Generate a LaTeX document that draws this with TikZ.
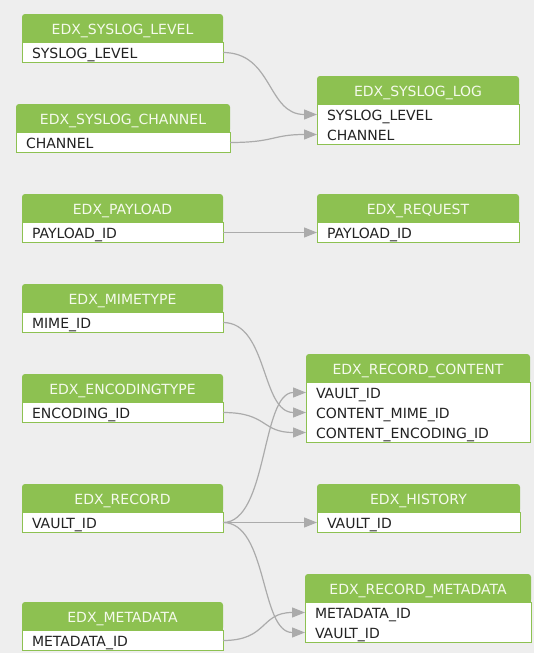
\documentclass[tikz,border=0pt]{standalone}
\usepackage{fontspec}
\setmainfont{DejaVu Sans}
\usetikzlibrary{arrows.meta}
\definecolor{hg}{HTML}{8DC151}
\definecolor{bgc}{HTML}{EEEEEE}
\definecolor{lnc}{HTML}{ABABAB}
\definecolor{htc}{HTML}{F5FAEC}
\definecolor{txc}{HTML}{222222}
\tikzset{
  hdr/.style={fill=hg, text=htc, rounded corners=3pt, minimum height=28.5pt,
    inner sep=0pt, outer sep=0pt, text height=13pt, text depth=0pt,
    font=\fontsize{14}{16}\selectfont, anchor=north west},
  fld/.style={fill=white, text=txc, minimum height=20pt, inner ysep=0pt, inner xsep=10pt,
    outer sep=0pt, text height=12pt, text depth=0pt, align=left,
    font=\fontsize{14}{16}\selectfont, anchor=north west},
  tabline/.style={draw=hg, line width=1pt},
  link/.style={draw=lnc, line width=1.2pt, -{Triangle[length=13pt,width=10pt]}},
}
\newcommand\tabhead[5]{%
  \fill[hg] ({#2},{#3+12}) rectangle ({#2+#4},{#3+28.5});
  \node[hdr, minimum width=#4pt] (#1) at (#2,#3) {#5};}
\newcommand\tabrow[4]{%
  \pgfmathsetmacro\tw{#3-20}%
  \node[fld, text width=\tw pt] (#1) at (#2.south west) {#4};}
\newcommand\tabbox[2]{\draw[tabline] (#1.north west) rectangle (#2.south east);}
\begin{document}
\begin{tikzpicture}[x=1pt,y=-1pt]
\fill[bgc] (0,0) rectangle (534,653);
\useasboundingbox (0,0) rectangle (534,653);

% EDX_SYSLOG_LEVEL
\tabhead{sl}{22}{14}{201}{EDX\_SYSLOG\_LEVEL}
\tabrow{sla}{sl}{201}{SYSLOG\_LEVEL}
\tabbox{sla}{sla}
% EDX_SYSLOG_CHANNEL
\tabhead{sc}{16}{104}{214}{EDX\_SYSLOG\_CHANNEL}
\tabrow{sca}{sc}{214}{CHANNEL}
\tabbox{sca}{sca}
% EDX_SYSLOG_LOG
\tabhead{lg}{317}{76}{202}{EDX\_SYSLOG\_LOG}
\tabrow{lga}{lg}{202}{SYSLOG\_LEVEL}
\tabrow{lgb}{lga}{202}{CHANNEL}
\tabbox{lga}{lgb}
% EDX_PAYLOAD
\tabhead{pl}{22}{194}{201}{EDX\_PAYLOAD}
\tabrow{pla}{pl}{201}{PAYLOAD\_ID}
\tabbox{pla}{pla}
% EDX_REQUEST
\tabhead{rq}{317}{194}{202}{EDX\_REQUEST}
\tabrow{rqa}{rq}{202}{PAYLOAD\_ID}
\tabbox{rqa}{rqa}
% EDX_MIMETYPE
\tabhead{mt}{22}{284}{201}{EDX\_MIMETYPE}
\tabrow{mta}{mt}{201}{MIME\_ID}
\tabbox{mta}{mta}
% EDX_ENCODINGTYPE
\tabhead{et}{22}{374}{201}{EDX\_ENCODINGTYPE}
\tabrow{eta}{et}{201}{ENCODING\_ID}
\tabbox{eta}{eta}
% EDX_RECORD_CONTENT
\tabhead{rc}{306}{354}{224}{EDX\_RECORD\_CONTENT}
\tabrow{rca}{rc}{224}{VAULT\_ID}
\tabrow{rcb}{rca}{224}{CONTENT\_MIME\_ID}
\tabrow{rcc}{rcb}{224}{CONTENT\_ENCODING\_ID}
\tabbox{rca}{rcc}
% EDX_RECORD
\tabhead{re}{22}{484}{201}{EDX\_RECORD}
\tabrow{rea}{re}{201}{VAULT\_ID}
\tabbox{rea}{rea}
% EDX_HISTORY
\tabhead{hi}{317}{484}{203}{EDX\_HISTORY}
\tabrow{hia}{hi}{203}{VAULT\_ID}
\tabbox{hia}{hia}
% EDX_RECORD_METADATA
\tabhead{rm}{305}{574}{226}{EDX\_RECORD\_METADATA}
\tabrow{rma}{rm}{226}{METADATA\_ID}
\tabrow{rmb}{rma}{226}{VAULT\_ID}
\tabbox{rma}{rmb}
% EDX_METADATA
\tabhead{md}{22}{602}{201}{EDX\_METADATA}
\tabrow{mda}{md}{201}{METADATA\_ID}
\tabbox{mda}{mda}

% connectors
\draw[link] (sla.east) .. controls +(50,0) and +(-50,0) .. (lga.west);
\draw[link] (sca.east) .. controls +(45,0) and +(-45,0) .. (lgb.west);
\draw[link] (pla.east) -- (rqa.west);
\draw[link] (mta.east) .. controls +(45,0) and +(-45,0) .. (rcb.west);
\draw[link] (eta.east) .. controls +(45,0) and +(-45,0) .. (rcc.west);
\draw[link] (rea.east) .. controls +(45,0) and +(-45,0) .. (rca.west);
\draw[link] (rea.east) -- (hia.west);
\draw[link] (rea.east) .. controls +(45,0) and +(-45,0) .. (rmb.west);
\draw[link] (mda.east) .. controls +(45,0) and +(-45,0) .. (rma.west);
\end{tikzpicture}
\end{document}
